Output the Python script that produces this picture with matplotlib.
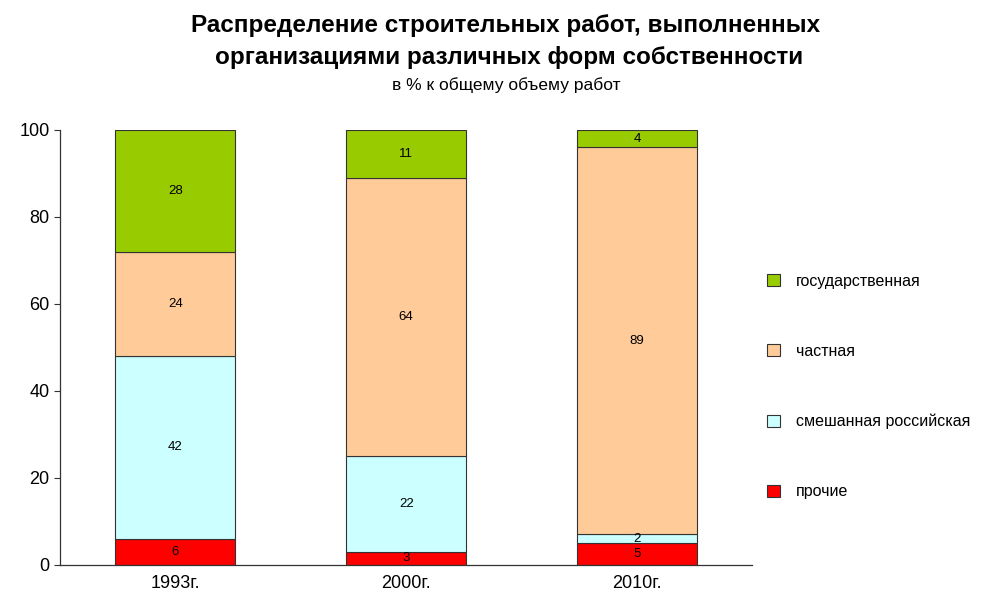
import numpy as np
import matplotlib
matplotlib.use('Agg')
import matplotlib.pyplot as plt

plt.rcParams['font.family'] = ['Liberation Sans', 'DejaVu Sans']

years = ['1993г.', '2000г.', '2010г.']
series_names = ['прочие', 'смешанная российская', 'частная', 'государственная']
prochie = [6, 3, 5]
smeshannaya = [42, 22, 2]
chastnaya = [24, 64, 89]
gos = [28, 11, 4]
colors = ['#FF0000', '#CCFFFF', '#FFCC99', '#99CC00']

fig = plt.figure(figsize=(10.08, 6.01), dpi=100)
ax = fig.add_axes([0.0595, 0.06, 0.687, 0.724])

x = np.arange(len(years))
bottom = np.zeros(len(years))
handles = []
for name, vals, col in zip(series_names, [prochie, smeshannaya, chastnaya, gos], colors):
    vals = np.array(vals, dtype=float)
    b = ax.bar(x, vals, 0.52, bottom=bottom, color=col, edgecolor='#333333',
               linewidth=0.8, label=name)
    handles.append(b)
    for xi, v, bt in zip(x, vals, bottom):
        ax.text(xi, bt + v / 2, f'{int(v)}', ha='center', va='center', fontsize=9.5)
    bottom += vals

ax.set_xlim(-0.5, 2.5)
ax.set_ylim(0, 100)
ax.set_yticks(range(0, 101, 20))
ax.set_xticks(x)
ax.set_xticklabels(years, fontsize=13)
ax.tick_params(axis='y', labelsize=13, length=4, width=0.8, color='#333333')
ax.tick_params(axis='x', length=0, pad=7)
for s in ['top', 'right']:
    ax.spines[s].set_visible(False)
for s in ['left', 'bottom']:
    ax.spines[s].set_color('#333333')
    ax.spines[s].set_linewidth(0.9)

fig.legend(handles[::-1], series_names[::-1], loc='center left',
           bbox_to_anchor=(0.747, 0.357), frameon=False, fontsize=11.5,
           handlelength=0.8, handleheight=0.8, labelspacing=3.45, handletextpad=1.0)

fig.text(0.502, 0.958, 'Распределение строительных работ, выполненных',
         ha='center', va='center', fontsize=17.5, fontweight='bold')
fig.text(0.505, 0.905, 'организациями различных форм собственности',
         ha='center', va='center', fontsize=17.5, fontweight='bold')
fig.text(0.502, 0.858, 'в % к общему объему работ', ha='center', va='center',
         fontsize=12.5)

fig.savefig('out.png', dpi=100)
